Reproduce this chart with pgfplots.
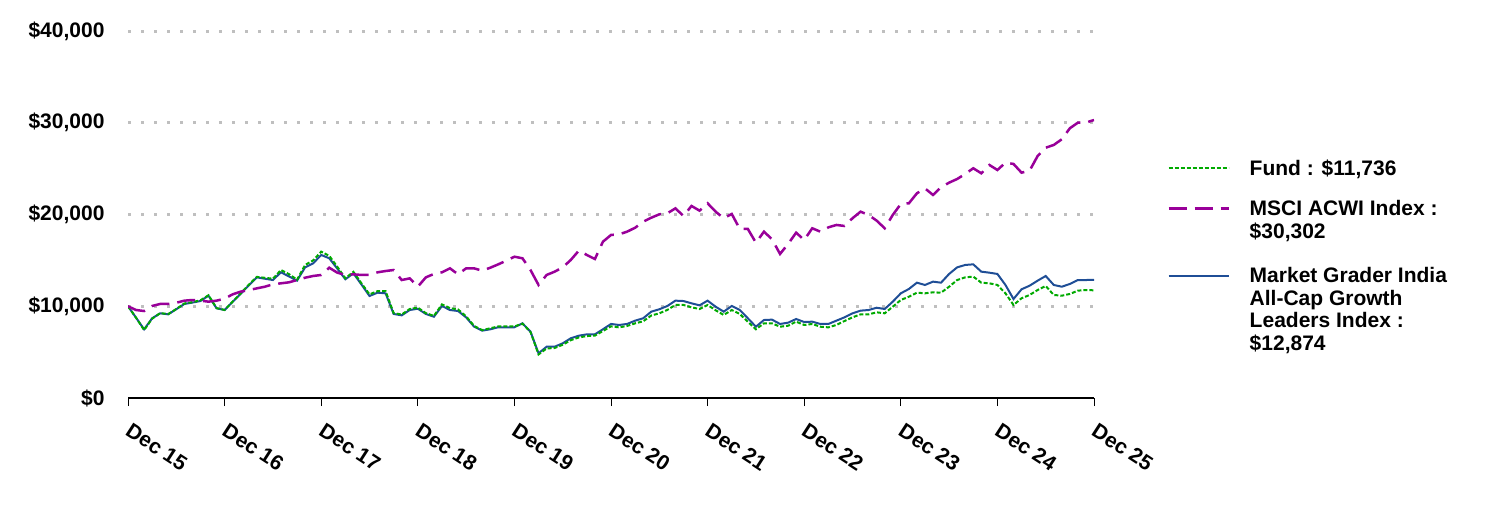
\documentclass[border=0pt]{standalone}
\usepackage{fontspec}
\setmainfont{Liberation Sans}
\usepackage{pgfplots}
\pgfplotsset{compat=1.18}
\usepackage{pgfplotstable}
\definecolor{fundgreen}{RGB}{0,170,0}
\definecolor{msciPurple}{RGB}{153,0,153}
\definecolor{idxblue}{RGB}{31,78,150}
\definecolor{gridgray}{RGB}{191,191,191}
\newcommand{\ls}[1]{\rule{0pt}{#1}}

\pgfplotstableread{
m fund msci idx
0 10000 10000 10000
1 8750 9590 8750
2 7400 9480 7490
3 8650 10030 8690
4 9250 10250 9230
5 9150 10250 9120
6 9700 10380 9680
7 10300 10610 10250
8 10450 10680 10400
9 10650 10610 10570
10 11200 10500 11150
11 9800 10610 9780
12 9600 10830 9590
13 10500 11300 10480
14 11400 11590 11370
15 12350 11770 12260
16 13200 11950 13150
17 13100 12130 13000
18 13000 12390 12860
19 13950 12500 13700
20 13500 12610 13250
21 12900 12860 12790
22 14500 13110 14240
23 15000 13300 14680
24 15950 13410 15590
25 15500 14200 15230
26 14300 13660 14100
27 13050 13410 12940
28 13750 13480 13590
29 12500 13410 12370
30 11300 13410 11120
31 11650 13700 11480
32 11650 13840 11410
33 9250 13950 9160
34 9100 12860 9010
35 9700 13040 9590
36 9850 12130 9730
37 9250 13150 9160
38 8950 13520 8860
39 10200 13700 10030
40 9800 14130 9590
41 9650 13480 9480
42 8900 14130 8790
43 7850 14130 7770
44 7400 13880 7340
45 7600 14200 7490
46 7800 14570 7710
47 7800 14970 7710
48 7800 15400 7710
49 8100 15230 8140
50 7200 13950 7230
51 4750 12320 4870
52 5400 13410 5590
53 5450 13770 5590
54 5800 14240 5960
55 6300 15040 6510
56 6600 16060 6790
57 6750 15590 6940
58 6800 15150 6940
59 7300 17040 7490
60 7810 17770 8070
61 7700 17840 7960
62 7850 18130 8070
63 8140 18560 8430
64 8360 19220 8690
65 8990 19650 9410
66 9230 20020 9670
67 9600 20130 10030
68 10140 20670 10610
69 10140 19840 10570
70 9880 20930 10320
71 9700 20420 10100
72 10140 21220 10610
73 9560 20310 9950
74 9050 19590 9410
75 9590 20060 10030
76 9160 18420 9590
77 8300 18420 8690
78 7490 16930 7770
79 8140 18130 8500
80 8140 17300 8540
81 7770 15700 8070
82 7880 16790 8210
83 8320 18020 8610
84 7960 17220 8280
85 8070 18500 8320
86 7770 18130 8070
87 7700 18600 8070
88 7960 18860 8430
89 8390 18750 8790
90 8790 19590 9230
91 9120 20310 9520
92 9120 19950 9590
93 9340 19330 9840
94 9230 18500 9700
95 9950 19950 10500
96 10680 21150 11410
97 11040 21220 11880
98 11480 22310 12570
99 11410 22850 12320
100 11520 22130 12680
101 11480 22970 12570
102 12130 23470 13520
103 12860 23870 14240
104 13150 24420 14500
105 13230 25040 14570
106 12570 24490 13770
107 12500 25400 13660
108 12320 24850 13520
109 11410 25650 12320
110 10140 25510 10790
111 10870 24560 11850
112 11230 24780 12240
113 11770 26380 12790
114 12210 27280 13300
115 11230 27580 12320
116 11150 28200 12130
117 11340 29400 12430
118 11700 30010 12860
119 11770 30010 12860
120 11736 30302 12874
}\data

\begin{document}
\begin{tikzpicture}[x=1pt,y=1pt]
\path[use as bounding box] (0,0) rectangle (1488,-516);
\begin{axis}[
  at={(128pt,-398pt)}, anchor=south west,
  scale only axis, width=966pt, height=367pt,
  xmin=0, xmax=120, ymin=0, ymax=40000,
  scaled y ticks=false,
  axis lines*=left,
  x axis line style={black, line width=1.5pt},
  y axis line style={draw=none},
  xtick={0,12,...,120},
  xticklabels={Dec 15,Dec 16,Dec 17,Dec 18,Dec 19,Dec 20,Dec 21,Dec 22,Dec 23,Dec 24,Dec 25},
  ytick={10000,20000,30000,40000},
  yticklabels={\$10{,}000,\$20{,}000,\$30{,}000,\$40{,}000},
  extra y ticks={0},
  extra y tick labels={\$0},
  extra y tick style={grid=none, tick style={draw=none}},
  ymajorgrids,
  y grid style={gridgray, line width=3pt, dash pattern=on 3pt off 10pt},
  tick align=outside,
  major tick length=8pt,
  xtick style={black, line width=1pt},
  ytick style={draw=none},
  /pgf/number format/assume math mode=true,
  tick label style={font=\fontsize{21}{22}\selectfont\bfseries},
  yticklabel style={xshift=-12pt},
  xticklabel style={rotate=-33, anchor=north west, xshift=9pt, yshift=-8pt},
  legend style={draw=none, fill=none, at={(1.0756,0.665)}, anchor=north west,
     font=\fontsize{21}{22}\selectfont\bfseries, cells={anchor=base west},
     row sep=0pt, column sep=20pt, inner sep=0pt,
     nodes={inner sep=0pt}},
  legend image code/.code={\draw[#1] (0pt,7pt) -- (60pt,7pt);},
]
\addplot[idxblue, line width=2pt, forget plot] table[x=m, y=idx] {\data};
\addplot[fundgreen, line width=2pt, dash pattern=on 4pt off 2pt, forget plot] table[x=m, y=fund] {\data};
\addplot[msciPurple, line width=2.5pt, dash pattern=on 18pt off 8pt, forget plot] table[x=m, y=msci] {\data};
\addlegendimage{fundgreen, line width=2pt, dash pattern=on 4pt off 2pt}
\addlegendentry{\ls{21pt}Fund : \$11,736}
\addlegendimage{msciPurple, line width=2.5pt, dash pattern=on 18pt off 8pt}
\addlegendentry{\ls{39pt}MSCI ACWI Index :}
\addlegendimage{empty legend}
\addlegendentry{\ls{21pt}\$30,302}
\addlegendimage{idxblue, line width=2pt}
\addlegendentry{\ls{43pt}Market Grader India}
\addlegendimage{empty legend}
\addlegendentry{\ls{21pt}All-Cap Growth}
\addlegendimage{empty legend}
\addlegendentry{\ls{21pt}Leaders Index :}
\addlegendimage{empty legend}
\addlegendentry{\ls{21pt}\$12,874}
\end{axis}
\end{tikzpicture}
\end{document}
